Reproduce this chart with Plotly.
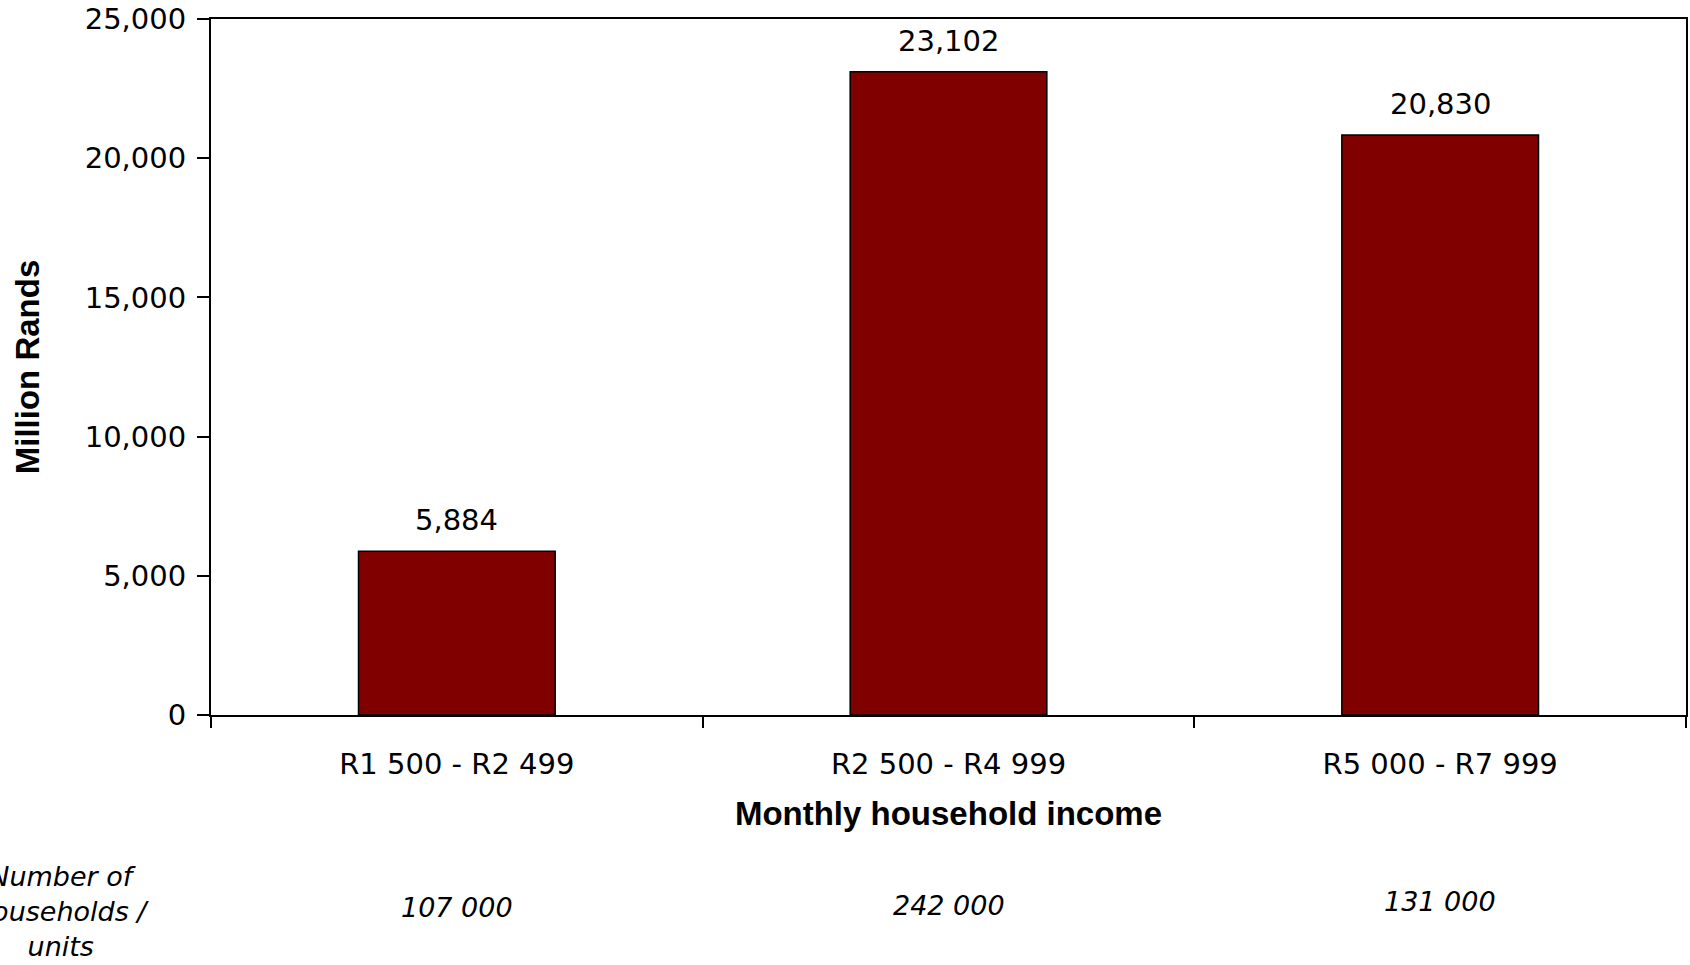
import plotly.graph_objects as go

# Income bands and value of housing (million rands)
income_bands = ["R1 500 - R2 499", "R2 500 - R4 999", "R5 000 - R7 999"]
value_million_rands = [5884, 23102, 20830]
households_units = ["107 000", "242 000", "131 000"]

y_ticks = [0, 5000, 10000, 15000, 20000, 25000]

TICK_FONT = dict(family="DejaVu Sans", size=29, color="black")
TITLE_FONT = dict(family="Liberation Sans", size=33, color="black")
ITALIC_FONT = dict(family="DejaVu Sans", size=27, color="black", style="italic")

fig = go.Figure()

fig.add_trace(go.Bar(
    x=income_bands,
    y=value_million_rands,
    marker=dict(color="#800000", line=dict(color="black", width=1.5)),
    hoverinfo="x+y",
))

# Value labels above each bar
for band, val in zip(income_bands, value_million_rands):
    fig.add_annotation(
        x=band, y=val, xref="x", yref="y",
        text=f"{val:,}", showarrow=False,
        yanchor="bottom", yshift=12, font=TICK_FONT,
    )

# Household counts under each income band
count_offsets = [-0.277, -0.274, -0.268]
for band, count, yo in zip(income_bands, households_units, count_offsets):
    fig.add_annotation(
        x=band, y=yo, xref="x", yref="paper",
        text=count, showarrow=False,
        xanchor="center", yanchor="middle", font=ITALIC_FONT,
    )

fig.add_annotation(
    x=-0.101, y=-0.282, xref="paper", yref="paper",
    text="Number of<br>households /<br>units", showarrow=False,
    xanchor="center", yanchor="middle", align="center", font=ITALIC_FONT,
)

fig.update_layout(
    width=1690, height=965,
    margin=dict(l=211, r=2, t=18, b=250),
    paper_bgcolor="white", plot_bgcolor="white",
    bargap=0.6,
    showlegend=False,
    xaxis=dict(
        type="category",
        showline=True, linecolor="black", linewidth=2, mirror=True,
        ticks="outside", tickson="boundaries", ticklen=11, tickcolor="black", tickwidth=1.5,
        tickfont=TICK_FONT, ticklabelstandoff=22,
        title=dict(text="<b>Monthly household income</b>", font=TITLE_FONT, standoff=22),
        showgrid=False, zeroline=False,
    ),
    yaxis=dict(
        range=[0, 25000], tickvals=y_ticks, tickformat=",",
        showline=True, linecolor="black", linewidth=2, mirror=True,
        ticks="outside", ticklen=12, tickcolor="black", tickwidth=1.5,
        tickfont=TICK_FONT, ticklabelstandoff=5,
        title=dict(text="<b>Million Rands</b>", font=TITLE_FONT, standoff=35),
        showgrid=False, zeroline=False,
    ),
)

fig.write_html("out.html")
